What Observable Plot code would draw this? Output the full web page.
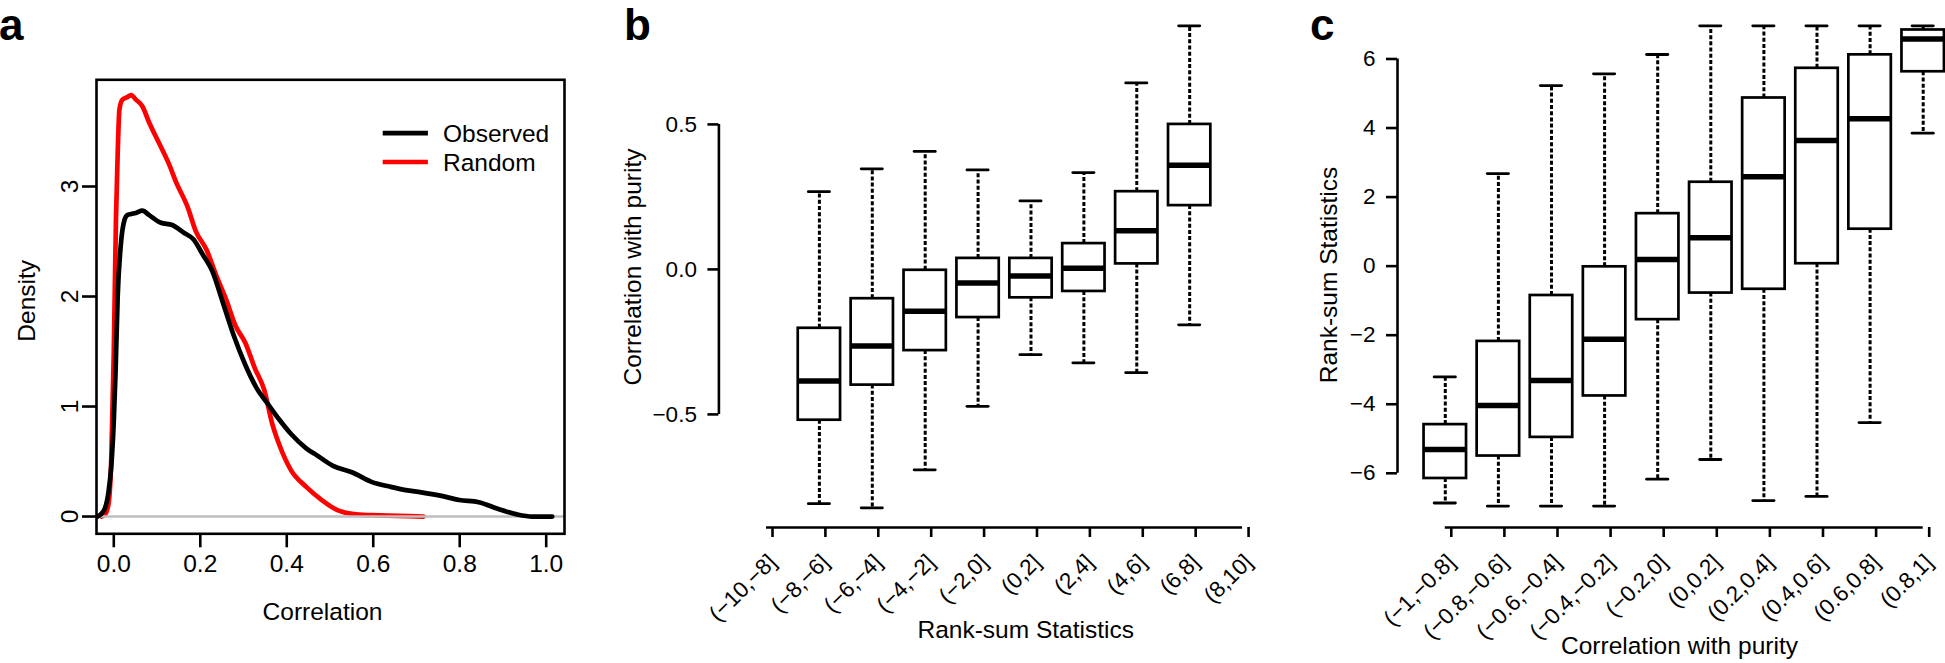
<!DOCTYPE html>
<html>
<head>
<meta charset="utf-8">
<script src="https://cdn.jsdelivr.net/npm/d3@7"></script>
<script src="https://cdn.jsdelivr.net/npm/@observablehq/plot@0.6"></script>
<style>
  html, body { margin: 0; padding: 0; background: #fff; }
  #fig { position: relative; width: 1945px; height: 663px; overflow: hidden; background: #fff;
         font-family: "Liberation Sans", Arial, Helvetica, sans-serif; color: #000; }
  #fig svg { position: absolute; top: 0; }
</style>
</head>
<body>
<div id="fig"></div>
<script>
// ---------------- Panel a: density of correlations ----------------
const observedCorr = [-0.037,-0.030,-0.020,-0.012,-0.006,0.000,0.004,0.009,0.016,0.025,0.031,0.040,0.051,0.066,0.082,0.109,0.135,0.162,0.184,0.206,0.228,0.251,0.277,0.304,0.330,0.357,0.383,0.410,0.445,0.472,0.507,0.552,0.596,0.640,0.675,0.711,0.755,0.799,0.844,0.888,0.932,0.968,1.014];
const observedDensity = [0.00,0.02,0.08,0.23,0.45,0.87,1.30,2.00,2.46,2.70,2.74,2.75,2.76,2.78,2.74,2.67,2.65,2.58,2.52,2.38,2.23,1.96,1.65,1.38,1.17,1.02,0.88,0.75,0.62,0.55,0.46,0.40,0.315,0.27,0.24,0.22,0.19,0.15,0.13,0.07,0.02,0.00,0.00];
const randomCorr = [-0.028,-0.020,-0.012,-0.006,0.000,0.005,0.009,0.013,0.020,0.030,0.040,0.051,0.066,0.082,0.104,0.127,0.144,0.171,0.189,0.215,0.237,0.259,0.282,0.304,0.326,0.348,0.366,0.383,0.410,0.445,0.481,0.516,0.560,0.614,0.716];
const randomDensity = [0.00,0.02,0.12,0.50,1.50,2.70,3.30,3.70,3.79,3.81,3.83,3.79,3.73,3.58,3.40,3.21,3.04,2.81,2.60,2.42,2.19,1.98,1.73,1.58,1.35,1.15,0.85,0.65,0.42,0.27,0.15,0.06,0.02,0.01,0.00];
const aXTicks = [0, 0.2, 0.4, 0.6, 0.8, 1.0];
const aYTicks = [0, 1, 2, 3];
const seriesNames = ["Observed", "Random"];
const seriesColors = ["#000000", "#ff0000"];

// ---------------- Panel b: correlation with purity by rank-sum bin ----------------
const rankBins = ["(−10,−8]","(−8,−6]","(−6,−4]","(−4,−2]","(−2,0]","(0,2]","(2,4]","(4,6]","(6,8]","(8,10]"];
const bBoxBins = ["(−8,−6]","(−6,−4]","(−4,−2]","(−2,0]","(0,2]","(2,4]","(4,6]","(6,8]"];
const bLow  = [-0.808,-0.822,-0.691,-0.472,-0.294,-0.322,-0.356,-0.191];
const bQ1   = [-0.520,-0.399,-0.280,-0.166,-0.098,-0.076, 0.019, 0.220];
const bMed  = [-0.385,-0.264,-0.144,-0.047,-0.023, 0.004, 0.133, 0.359];
const bQ3   = [-0.203,-0.101,-0.003, 0.038, 0.038, 0.089, 0.268, 0.500];
const bHigh = [ 0.268, 0.347, 0.407, 0.343, 0.236, 0.334, 0.643, 0.840];
const bYTicks = [-0.5, 0.0, 0.5];

// ---------------- Panel c: rank-sum statistics by correlation bin ----------------
const corrBins = ["(−1,−0.8]","(−0.8,−0.6]","(−0.6,−0.4]","(−0.4,−0.2]","(−0.2,0]","(0,0.2]","(0.2,0.4]","(0.4,0.6]","(0.6,0.8]","(0.8,1]"];
const cLow  = [-6.86,-6.95,-6.95,-6.95,-6.17,-5.60,-6.79,-6.67,-4.53, 3.85];
const cQ1   = [-6.15,-5.50,-4.96,-3.76,-1.55,-0.78,-0.67, 0.07, 1.07, 5.63];
const cMed  = [-5.31,-4.04,-3.31,-2.12, 0.19, 0.82, 2.59, 3.64, 4.27, 6.58];
const cQ3   = [-4.59,-2.18,-0.85,-0.02, 1.52, 2.43, 4.87, 5.73, 6.12, 6.84];
const cHigh = [-3.21, 2.68, 5.23, 5.57, 6.13, 6.96, 6.96, 6.96, 6.96, 6.96];
const cYTicks = [-6, -4, -2, 0, 2, 4, 6];

// ---------------- build tables ----------------
const densityRows = [
  ...observedCorr.map((x, i) => ({series: seriesNames[0], x, y: observedDensity[i]})),
  ...randomCorr.map((x, i) => ({series: seriesNames[1], x, y: randomDensity[i]}))
];
const bRows = bBoxBins.map((bin, i) => ({pos: rankBins.indexOf(bin) + 1, low: bLow[i], q1: bQ1[i], med: bMed[i], q3: bQ3[i], high: bHigh[i]}));
const cRows = corrBins.map((bin, i) => ({pos: i + 1, low: cLow[i], q1: cQ1[i], med: cMed[i], q3: cQ3[i], high: cHigh[i]}));

const FONT = "Liberation Sans, Arial, Helvetica, sans-serif";
const TITLE = 24.5, TICK_A = 24.5, TICK_BC = 22.5;
const fig = document.getElementById("fig");
function place(svg, left) { svg.style.left = left + "px"; fig.appendChild(svg); }

// ---------------- Panel a ----------------
const plotA = Plot.plot({
  width: 600, height: 663,
  marginLeft: 96, marginRight: 36, marginTop: 79.3, marginBottom: 129.7,
  style: {fontFamily: FONT, background: "none", overflow: "visible", color: "#000"},
  x: {domain: [-0.040, 1.0423], axis: null},
  y: {domain: [-0.157, 3.97], axis: null},
  marks: [
    Plot.line(densityRows.filter(d => d.series === seriesNames[1]), {x: "x", y: "y", stroke: seriesColors[1], strokeWidth: 4.7, curve: "monotone-x", strokeLinejoin: "round", strokeLinecap: "round"}),
    Plot.ruleY([0], {stroke: "#bebebe", strokeWidth: 2.4}),
    Plot.line(densityRows.filter(d => d.series === seriesNames[0]), {x: "x", y: "y", stroke: seriesColors[0], strokeWidth: 4.7, curve: "monotone-x", strokeLinejoin: "round", strokeLinecap: "round"}),
    Plot.frame({stroke: "#000", strokeWidth: 2.6}),
    Plot.axisX(aXTicks, {tickSize: 14, tickPadding: 7, tickFormat: d => d.toFixed(1), fontSize: TICK_A, strokeWidth: 2.6, label: null}),
    Plot.axisY(aYTicks, {tickSize: 14, tickPadding: 4.7, tickRotate: -90, tickFormat: d => String(d), fontSize: TICK_A, strokeWidth: 2.6, label: null}),
    Plot.text(["Correlation"], {frameAnchor: "bottom", dx: -8, dy: 85.7, lineAnchor: "bottom", fontSize: TITLE}),
    Plot.text(["Density"], {frameAnchor: "left", rotate: -90, textAnchor: "middle", lineAnchor: "bottom", dx: -62, dy: -6, fontSize: TITLE})
  ]
});
place(plotA, 0);

// ---------------- box plot helper ----------------
function boxMarks(rows) {
  const half = 0.4, cap = 0.2;
  return [
    Plot.ruleX(rows, {x: "pos", y1: "q3", y2: "high", strokeWidth: 3, strokeDasharray: "4,2.2"}),
    Plot.ruleX(rows, {x: "pos", y1: "q1", y2: "low", strokeWidth: 3, strokeDasharray: "4,2.2"}),
    Plot.ruleY(rows, {y: "high", x1: d => d.pos - cap, x2: d => d.pos + cap, strokeWidth: 2.8, strokeLinecap: "round"}),
    Plot.ruleY(rows, {y: "low", x1: d => d.pos - cap, x2: d => d.pos + cap, strokeWidth: 2.8, strokeLinecap: "round"}),
    Plot.rect(rows, {x1: d => d.pos - half, x2: d => d.pos + half, y1: "q1", y2: "q3", fill: "white", stroke: "#000", strokeWidth: 2.7}),
    Plot.ruleY(rows, {y: "med", x1: d => d.pos - half, x2: d => d.pos + half, strokeWidth: 5.5})
  ];
}

// ---------------- Panel b ----------------
const bYDomain = [-0.890, 0.9066];
const plotB = Plot.plot({
  width: 650, height: 663,
  marginLeft: 118.4, marginRight: 0, marginTop: 6, marginBottom: 136,
  style: {fontFamily: FONT, background: "none", overflow: "visible", color: "#000"},
  x: {domain: [0.1, 10.15], axis: null},
  y: {domain: bYDomain, axis: null},
  marks: [
    Plot.ruleX([0.1], {y1: d3.min(bYTicks), y2: d3.max(bYTicks), strokeWidth: 2.6}),
    Plot.ruleY([bYDomain[0]], {x1: 1, x2: rankBins.length, strokeWidth: 2.6}),
    Plot.axisY(bYTicks, {tickSize: 11, tickPadding: 11, tickFormat: d => d3.format(".1f")(d).replace("-", "−"), fontSize: TICK_BC, strokeWidth: 2.6, label: null}),
    Plot.axisX(d3.range(1, rankBins.length + 1), {tickSize: 10, tickPadding: 21, tickRotate: -45, dx: 6, tickFormat: i => rankBins[i - 1], fontSize: TICK_BC, strokeWidth: 2.6, label: null}),
    ...boxMarks(bRows),
    Plot.text(["Rank-sum Statistics"], {frameAnchor: "bottom", dx: 41, dy: 110, lineAnchor: "bottom", fontSize: TITLE}),
    Plot.text(["Correlation with purity"], {frameAnchor: "left", rotate: -90, textAnchor: "middle", lineAnchor: "bottom", dx: -78.4, dy: 0, fontSize: TITLE})
  ]
});
place(plotB, 600);

// ---------------- Panel c ----------------
const cYDomain = [-7.57, 7.52];
const plotC = Plot.plot({
  width: 695, height: 663,
  marginLeft: 147, marginRight: 0, marginTop: 6, marginBottom: 136,
  style: {fontFamily: FONT, background: "none", overflow: "visible", color: "#000"},
  x: {domain: [0.1, 10.42], axis: null},
  y: {domain: cYDomain, axis: null},
  marks: [
    Plot.ruleX([0.1], {y1: d3.min(cYTicks), y2: d3.max(cYTicks), strokeWidth: 2.6}),
    Plot.ruleY([cYDomain[0]], {x1: 1, x2: corrBins.length, strokeWidth: 2.6}),
    Plot.axisY(cYTicks, {tickSize: 11, tickPadding: 11, tickFormat: d => String(d).replace("-", "−"), fontSize: TICK_BC, strokeWidth: 2.6, label: null}),
    Plot.axisX(d3.range(1, corrBins.length + 1), {tickSize: 10, tickPadding: 21, tickRotate: -45, dx: 6, tickFormat: i => corrBins[i - 1], fontSize: TICK_BC, strokeWidth: 2.6, label: null}),
    ...boxMarks(cRows),
    Plot.text(["Correlation with purity"], {frameAnchor: "bottom", dx: 8, dy: 126, lineAnchor: "bottom", fontSize: TITLE}),
    Plot.text(["Rank-sum Statistics"], {frameAnchor: "left", rotate: -90, textAnchor: "middle", lineAnchor: "bottom", dx: -61, dy: 8, fontSize: TITLE})
  ]
});
place(plotC, 1250);

// ---------------- overlay: panel letters and legend ----------------
const ov = d3.select(fig).append("svg")
  .attr("width", 1945).attr("height", 663)
  .style("left", "0px").style("pointer-events", "none")
  .style("font-family", FONT);
[["a", -1], ["b", 624], ["c", 1310]].forEach(([t, x]) =>
  ov.append("text").attr("x", x).attr("y", 40).attr("font-size", 44).attr("font-weight", "bold").text(t));
seriesNames.forEach((name, i) => {
  const y = 133.2 + i * 28.8;
  ov.append("line").attr("x1", 382.7).attr("x2", 427.9).attr("y1", y).attr("y2", y)
    .attr("stroke", seriesColors[i]).attr("stroke-width", 4.7);
  ov.append("text").attr("x", 443).attr("y", y + 8.6).attr("font-size", TITLE).text(name);
});
</script>
</body>
</html>
